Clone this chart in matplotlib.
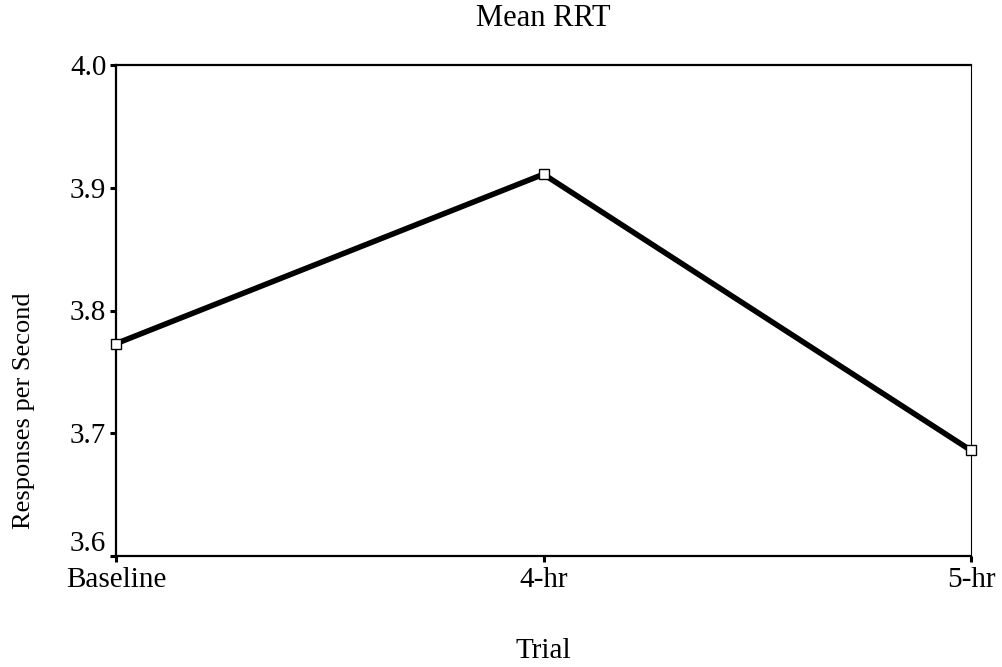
import matplotlib
matplotlib.use("Agg")
import matplotlib.pyplot as plt
from matplotlib.transforms import ScaledTranslation

trials = ["Baseline", "4-hr", "5-hr"]
rrt = [3.773, 3.911, 3.686]
yticks = [3.6, 3.7, 3.8, 3.9, 4.0]

plt.rcParams['font.family'] = ['Liberation Serif', 'DejaVu Serif']

fig = plt.figure(figsize=(10.02, 6.67), dpi=100)
ax = fig.add_axes([116/1002, 111/667, 855/1002, 491/667])
x = list(range(len(trials)))
ax.plot(x, rrt, color='black', linewidth=4.0, marker='s', markersize=7.5,
        markerfacecolor='white', markeredgecolor='black', markeredgewidth=1.0,
        clip_on=False, zorder=3)
ax.set_xlim(0, 2)
ax.set_ylim(3.6, 4.0)
ax.set_yticks(yticks)
ax.set_yticklabels([f"{v:.1f}" for v in yticks])
ax.set_xticks(x)
ax.set_xticklabels(trials)
ax.tick_params(axis='both', direction='out', length=4, width=2.2, labelsize=21)
ax.tick_params(axis='y', pad=3)
ax.tick_params(axis='x', pad=4)
# lowest y label sits above the bottom tick
lbl = ax.get_yticklabels()[0]
lbl.set_transform(lbl.get_transform() + ScaledTranslation(0, 15/100, fig.dpi_scale_trans))
for s in ['left', 'bottom', 'top']:
    ax.spines[s].set_linewidth(1.6)
ax.spines['right'].set_linewidth(0.8)
ax.set_title("Mean RRT", fontsize=22, y=1.0937, va='center', pad=0)
ax.set_xlabel("Trial", fontsize=21)
ax.xaxis.set_label_coords(0.5, -0.193)
ax.xaxis.label.set_va('center')
ax.set_ylabel("Responses per Second", fontsize=19)
ax.yaxis.set_label_coords(-0.108, 0.295)
ax.yaxis.label.set_va('center')
fig.savefig("out.png", dpi=100)
